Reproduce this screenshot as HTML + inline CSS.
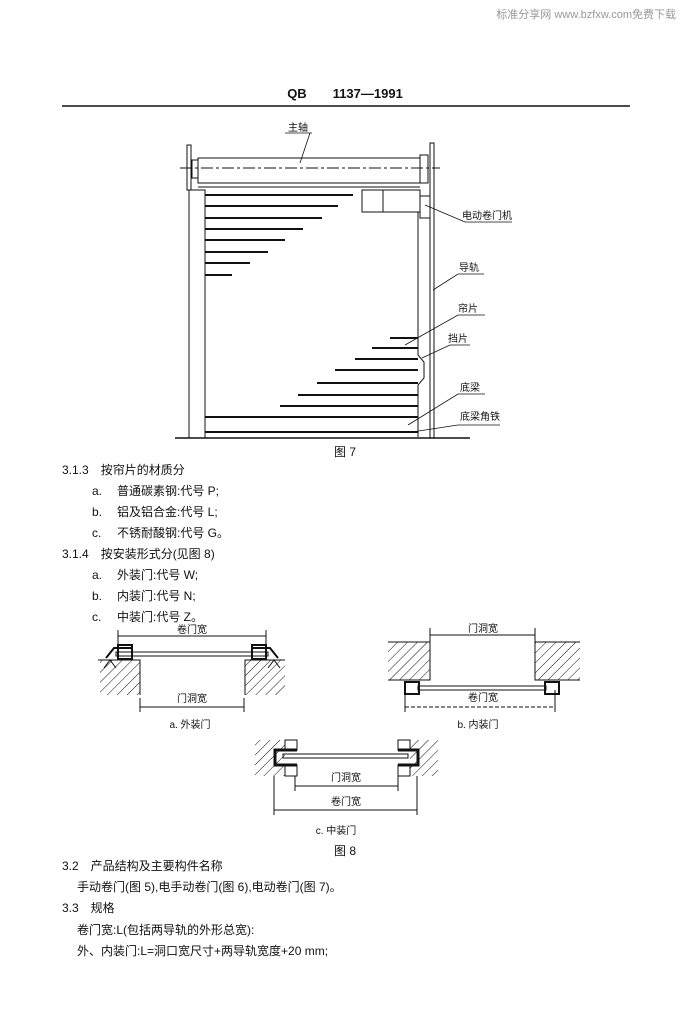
<!DOCTYPE html>
<html><head><meta charset="utf-8"><style>
body{margin:0;background:#fff;}
svg{display:block}
text{font-family:"Liberation Sans","Noto Sans CJK SC",sans-serif;fill:#111}
</style></head><body>
<svg width="686" height="1024" viewBox="0 0 686 1024" xmlns="http://www.w3.org/2000/svg">
<defs>
<pattern id="h" width="7" height="7" patternUnits="userSpaceOnUse" patternTransform="rotate(45)">
<rect width="7" height="7" fill="#fff"/><line x1="0" y1="0" x2="0" y2="7" stroke="#111" stroke-width="1"/>
</pattern>
</defs>
<text x="676" y="18" font-size="11" text-anchor="end" style="fill:#999">标准分享网 www.bzfxw.com免费下载</text>
<text x="345" y="98" font-size="13" font-weight="bold" text-anchor="middle">QB　　1137—1991</text>
<line x1="62" y1="106" x2="630" y2="106" stroke="#111" stroke-width="1.5"/>

<!-- Figure 7 -->
<g stroke="#111" fill="none" stroke-width="1">
<rect x="187" y="145" width="4" height="45"/>
<rect x="189" y="190" width="16" height="248"/>
<rect x="198" y="158" width="222" height="25"/>
<line x1="198" y1="187" x2="420" y2="187"/>
<line x1="180" y1="168" x2="440" y2="168" stroke-dasharray="12,3,3,3"/>
<rect x="192" y="160" width="6" height="18"/>
<rect x="420" y="155" width="8" height="28"/>
<rect x="430" y="143" width="4" height="295"/>
<rect x="362" y="190" width="58" height="22"/>
<line x1="383" y1="190" x2="383" y2="212"/>
<rect x="420" y="196" width="10" height="22"/>
<line x1="418" y1="212" x2="418" y2="355"/>
<path d="M418 355 L424 362 L424 378 L418 385 L418 437"/>
<line x1="175" y1="438" x2="470" y2="438" stroke-width="1.5"/>
</g>
<g stroke="#111" stroke-width="2">
<line x1="205" y1="195" x2="353" y2="195"/>
<line x1="205" y1="206" x2="338" y2="206"/>
<line x1="205" y1="218" x2="322" y2="218"/>
<line x1="205" y1="229" x2="303" y2="229"/>
<line x1="205" y1="240" x2="285" y2="240"/>
<line x1="205" y1="252" x2="268" y2="252"/>
<line x1="205" y1="263" x2="250" y2="263"/>
<line x1="205" y1="275" x2="232" y2="275"/>
<line x1="390" y1="338" x2="418" y2="338"/>
<line x1="372" y1="348" x2="418" y2="348"/>
<line x1="355" y1="359" x2="418" y2="359"/>
<line x1="335" y1="370" x2="418" y2="370"/>
<line x1="317" y1="383" x2="418" y2="383"/>
<line x1="298" y1="395" x2="418" y2="395"/>
<line x1="280" y1="406" x2="418" y2="406"/>
<line x1="205" y1="417" x2="418" y2="417"/>
<line x1="205" y1="432" x2="418" y2="432"/>
</g>
<g stroke="#111" stroke-width="0.8" fill="none">
<polyline points="310,133 300,163"/><line x1="285" y1="133" x2="312" y2="133"/>
<polyline points="425,205 465,222 512,222"/>
<polyline points="433,290 458,274 484,274"/>
<polyline points="405,345 458,315 485,315"/>
<polyline points="422,358 450,345 470,345"/>
<polyline points="408,425 458,394 485,394"/>
<polyline points="412,432 458,425 500,425"/>
</g>
<g font-size="10">
<text x="288" y="131">主轴</text>
<text x="462" y="219">电动卷门机</text>
<text x="459" y="271">导轨</text>
<text x="458" y="312">帘片</text>
<text x="448" y="342">挡片</text>
<text x="460" y="391">底梁</text>
<text x="460" y="420">底梁角铁</text>
</g>
<text x="345" y="456" font-size="12" text-anchor="middle">图 7</text>

<g font-size="12">
<text x="62" y="474">3.1.3　按帘片的材质分</text>
<text x="92" y="495">a.</text><text x="117" y="495">普通碳素钢:代号 P;</text>
<text x="92" y="516">b.</text><text x="117" y="516">铝及铝合金:代号 L;</text>
<text x="92" y="537">c.</text><text x="117" y="537">不锈耐酸钢:代号 G。</text>
<text x="62" y="558">3.1.4　按安装形式分(见图 8)</text>
<text x="92" y="579">a.</text><text x="117" y="579">外装门:代号 W;</text>
<text x="92" y="600">b.</text><text x="117" y="600">内装门:代号 N;</text>
<text x="92" y="621">c.</text><text x="117" y="621">中装门:代号 Z。</text>
</g>

<!-- Fig 8a -->
<g stroke="#111" fill="none" stroke-width="1">
<rect x="100" y="660" width="40" height="35" fill="url(#h)" stroke="none"/>
<path d="M98 660 H140 V695"/>
<rect x="245" y="660" width="40" height="35" fill="url(#h)" stroke="none"/>
<path d="M285 660 H245 V695"/>
<line x1="118" y1="636" x2="266" y2="636"/>
<line x1="118" y1="630" x2="118" y2="652"/><line x1="266" y1="630" x2="266" y2="652"/>
<line x1="140" y1="707" x2="244" y2="707"/>
<line x1="140" y1="698" x2="140" y2="712"/><line x1="244" y1="698" x2="244" y2="712"/>
<rect x="116" y="652" width="152" height="4"/>
<path d="M106 658 L114 648 H132 M278 658 L270 648 H252" stroke-width="2"/>
<rect x="118" y="645" width="14" height="14" stroke-width="2"/>
<rect x="252" y="645" width="14" height="14" stroke-width="2"/>
<path d="M104 668 L110 660 L116 668 M268 668 L274 660 L280 668"/>
</g>
<text x="192" y="633" font-size="10" text-anchor="middle">卷门宽</text>
<text x="192" y="702" font-size="10" text-anchor="middle">门洞宽</text>
<text x="190" y="728" font-size="10" text-anchor="middle">a. 外装门</text>

<!-- Fig 8b -->
<g stroke="#111" fill="none" stroke-width="1">
<rect x="388" y="642" width="42" height="38" fill="url(#h)" stroke="none"/>
<path d="M388 642 H430 V680 H388"/>
<rect x="535" y="642" width="45" height="38" fill="url(#h)" stroke="none"/>
<path d="M580 642 H535 V680 H580"/>
<line x1="430" y1="635" x2="535" y2="635"/>
<line x1="430" y1="628" x2="430" y2="642"/><line x1="535" y1="628" x2="535" y2="642"/>
<rect x="418" y="686" width="128" height="4"/>
<rect x="405" y="682" width="14" height="12" stroke-width="2"/>
<rect x="545" y="682" width="14" height="12" stroke-width="2"/>
<line x1="405" y1="707" x2="555" y2="707" stroke-dasharray="4,2"/>
<line x1="405" y1="690" x2="405" y2="712"/><line x1="555" y1="690" x2="555" y2="712"/>
</g>
<text x="483" y="632" font-size="10" text-anchor="middle">门洞宽</text>
<text x="483" y="701" font-size="10" text-anchor="middle">卷门宽</text>
<text x="478" y="728" font-size="10" text-anchor="middle">b. 内装门</text>

<!-- Fig 8c -->
<g stroke="#111" fill="none" stroke-width="1">
<rect x="255" y="740" width="30" height="36" fill="url(#h)" stroke="none"/>
<rect x="410" y="740" width="28" height="36" fill="url(#h)" stroke="none"/>
<line x1="255" y1="740" x2="438" y2="740" stroke="none"/>
<rect x="285" y="740" width="12" height="10"/><rect x="285" y="765" width="12" height="11"/>
<rect x="398" y="740" width="12" height="10"/><rect x="398" y="765" width="12" height="11"/>
<path d="M297 750 H275 V765 H297" stroke-width="3"/>
<path d="M398 750 H418 V765 H398" stroke-width="3"/>
<rect x="283" y="754" width="125" height="4"/>
<line x1="295" y1="786" x2="398" y2="786"/>
<line x1="295" y1="776" x2="295" y2="791"/><line x1="398" y1="776" x2="398" y2="791"/>
<line x1="274" y1="810" x2="417" y2="810"/>
<line x1="274" y1="776" x2="274" y2="815"/><line x1="417" y1="776" x2="417" y2="815"/>
</g>
<text x="346" y="781" font-size="10" text-anchor="middle">门洞宽</text>
<text x="346" y="805" font-size="10" text-anchor="middle">卷门宽</text>
<text x="336" y="834" font-size="10" text-anchor="middle">c. 中装门</text>
<text x="345" y="855" font-size="12" text-anchor="middle">图 8</text>

<g font-size="12">
<text x="62" y="870">3.2　产品结构及主要构件名称</text>
<text x="77" y="891">手动卷门(图 5),电手动卷门(图 6),电动卷门(图 7)。</text>
<text x="62" y="912">3.3　规格</text>
<text x="77" y="934">卷门宽:L(包括两导轨的外形总宽):</text>
<text x="77" y="955">外、内装门:L=洞口宽尺寸+两导轨宽度+20 mm;</text>
</g>
</svg>
</body></html>
